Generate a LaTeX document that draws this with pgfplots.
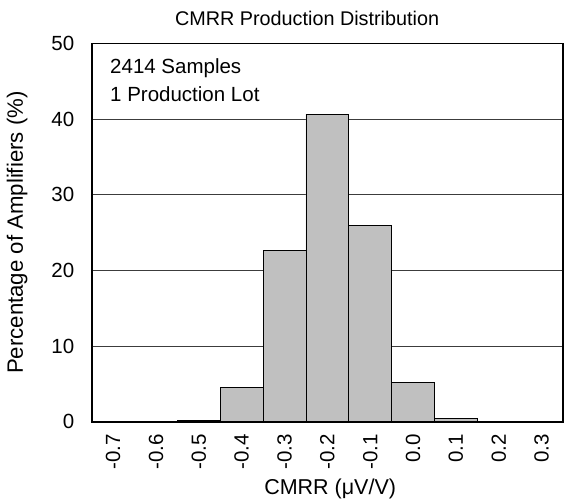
\documentclass[border=0pt]{standalone}
\usepackage{fontspec}
\setmainfont{Liberation Sans}
\usepackage{pgfplots}
\pgfplotsset{compat=1.18}
\definecolor{barfill}{RGB}{192,192,192}
\definecolor{gridc}{RGB}{60,60,60}
\begin{document}
\begin{tikzpicture}
\begin{axis}[
  scale only axis,
  width=471.3pt, height=378.2pt,
  xmin=-0.75, xmax=0.35,
  ymin=0, ymax=50,
  ytick={0,10,20,30,40,50},
  yticklabels={0,10,20,30,40,50},
  xtick={-0.7,-0.6,-0.5,-0.4,-0.3,-0.2,-0.1,0,0.1,0.2,0.3},
  xticklabels={{-0.7},{-0.6},{-0.5},{-0.4},{-0.3},{-0.2},{-0.1},{0.0},{0.1},{0.2},{0.3}},
  major tick length=0pt,
  ymajorgrids,
  major grid style={gridc, line width=0.8pt},
  axis line style={black, line width=1.8pt},
  tick label style={font=\fontsize{20.5}{24}\selectfont},
  yticklabel style={anchor=east, xshift=-14pt},
  xticklabel style={rotate=90, anchor=east, xshift=-9pt},
  title={CMRR Production Distribution},
  title style={font=\fontsize{19.8}{23}\selectfont, at={(axis description cs:0.457,1)}, anchor=base, yshift=12pt},
  xlabel={CMRR (μV/V)},
  xlabel style={font=\fontsize{21.5}{25}\selectfont, at={(axis description cs:0.506,0)}, anchor=base, yshift=-72.3pt},
  ylabel={Percentage of Amplifiers (\%)},
  ylabel style={font=\fontsize{22.2}{26}\selectfont, at={(axis description cs:0,0.5)}, anchor=center, yshift=74.5pt},
]
\addplot[ybar, bar width=0.1, fill=barfill, draw=black, line width=0.8pt] coordinates {
  (-0.5,0.2) (-0.4,4.55) (-0.3,22.67) (-0.2,40.66) (-0.1,26.0) (0.0,5.16) (0.1,0.45)
};
\node[anchor=base west, font=\fontsize{20.5}{24}\selectfont] at (rel axis cs:0.0318,0.921) {2414 Samples};
\node[anchor=base west, font=\fontsize{20.5}{24}\selectfont] at (rel axis cs:0.0318,0.846) {1 Production Lot};
\end{axis}
\pgfresetboundingbox
\path ([shift={(-91.7pt,-81.3pt)}]current axis.south west) rectangle ([shift={(1pt,43.5pt)}]current axis.north east);
\end{tikzpicture}
\end{document}
